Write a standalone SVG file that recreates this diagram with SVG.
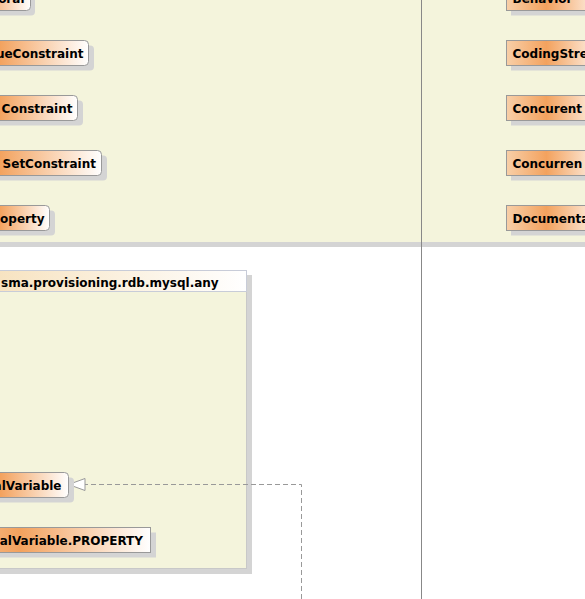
<svg xmlns="http://www.w3.org/2000/svg" width="585" height="599" viewBox="0 0 585 599">
<style>
.pkg{fill:#f4f4dc;stroke:#c8c8c8;stroke-width:1}
.shadow{fill:#d4d4d4}
.nodeL{fill:url(#gL);stroke:#999;stroke-width:1}
.nodeR{fill:url(#gR);stroke:#999;stroke-width:1}
.lbl{font-family:"DejaVu Sans",sans-serif;font-weight:bold;font-size:12px;fill:#000}
.conn{fill:none;stroke:#999;stroke-width:1}
</style>
<defs>
<linearGradient id="gL" x1="0" y1="0" x2="1" y2="0">
<stop offset="0" stop-color="#f8cfa8"/>
<stop offset="0.4" stop-color="#f3a25e"/>
<stop offset="1" stop-color="#ffffff"/>
</linearGradient>
<linearGradient id="gR" x1="0" y1="0" x2="1" y2="0">
<stop offset="0" stop-color="#f8cfa8"/>
<stop offset="0.4" stop-color="#f3a25e"/>
<stop offset="1" stop-color="#ffffff"/>
</linearGradient>
<linearGradient id="gH" x1="0" y1="0" x2="1" y2="0">
<stop offset="0" stop-color="#f4d8a8"/>
<stop offset="1" stop-color="#ffffff"/>
</linearGradient>
</defs>

<g id="pkg-top">
<rect class="shadow" x="-10" y="242" width="600" height="5"/>
<rect x="-10" y="-10" width="600" height="252" fill="#f4f4dc"/>
</g>

<g id="pkg-mysql">
<rect class="shadow" x="-95" y="275" width="347" height="299"/>
<rect class="pkg" x="-100.5" y="270.5" width="347" height="298"/>
<rect x="-100.5" y="270.5" width="347" height="21" fill="url(#gH)" stroke="#c8ccd8"/>
<text class="lbl" x="1" y="286.5">sma.provisioning.rdb.mysql.any</text>
</g>

<g id="connectors">
<line x1="421.5" y1="0" x2="421.5" y2="599" stroke="#888" stroke-width="1"/>
<path class="conn" d="M301.5,599 V484.5 H85" stroke-dasharray="5,3"/>
<polygon points="68.5,484.5 85,478.5 85,490.5" fill="#fff" stroke="#999"/>
</g>

<g id="node-l1">
<rect class="shadow" x="-45" y="-9.5" width="80" height="25" rx="4"/>
<rect class="nodeL" x="-49.5" y="-14.5" width="80" height="25" rx="4"/>
<text class="lbl" x="24.5" y="2.5" text-anchor="end">oral</text>
</g>
<g id="node-l2">
<rect class="shadow" x="-54" y="45.5" width="148" height="25" rx="4"/>
<rect class="nodeL" x="-59.5" y="40.5" width="148" height="25" rx="4"/>
<text class="lbl" x="83.5" y="57.5" text-anchor="end">ueConstraint</text>
</g>
<g id="node-l3">
<rect class="shadow" x="-47" y="100.5" width="130" height="25" rx="4"/>
<rect class="nodeL" x="-52.5" y="95.5" width="130" height="25" rx="4"/>
<text class="lbl" x="72.5" y="112.5" text-anchor="end">Constraint</text>
</g>
<g id="node-l4">
<rect class="shadow" x="-63" y="155.5" width="170" height="25" rx="4"/>
<rect class="nodeL" x="-68.5" y="150.5" width="170" height="25" rx="4"/>
<text class="lbl" x="96" y="167.5" text-anchor="end">SetConstraint</text>
</g>
<g id="node-l5">
<rect class="shadow" x="-28" y="210.5" width="83" height="25" rx="4"/>
<rect class="nodeL" x="-33.5" y="205.5" width="83" height="25" rx="4"/>
<text class="lbl" x="44.5" y="222.5" text-anchor="end">operty</text>
</g>

<g id="node-r1">
<rect class="shadow" x="511" y="-9.5" width="100" height="25"/>
<rect class="nodeR" x="506.5" y="-14.5" width="100" height="25"/>
<text class="lbl" x="512.5" y="2.5">Behavior</text>
</g>
<g id="node-r2">
<rect class="shadow" x="511" y="45.5" width="100" height="25"/>
<rect class="nodeR" x="506.5" y="40.5" width="100" height="25"/>
<text class="lbl" x="512.5" y="57.5">CodingStre</text>
</g>
<g id="node-r3">
<rect class="shadow" x="511" y="100.5" width="100" height="25"/>
<rect class="nodeR" x="506.5" y="95.5" width="100" height="25"/>
<text class="lbl" x="512.5" y="112.5">Concurent</text>
</g>
<g id="node-r4">
<rect class="shadow" x="511" y="155.5" width="100" height="25"/>
<rect class="nodeR" x="506.5" y="150.5" width="100" height="25"/>
<text class="lbl" x="512.5" y="167.5">Concurren</text>
</g>
<g id="node-r5">
<rect class="shadow" x="511" y="210.5" width="100" height="25"/>
<rect class="nodeR" x="506.5" y="205.5" width="100" height="25"/>
<text class="lbl" x="512.5" y="222.5">Documenta</text>
</g>

<g id="node-var">
<rect class="shadow" x="-39" y="477.5" width="113" height="25" rx="4"/>
<rect class="nodeL" x="-44.5" y="472.5" width="113" height="25" rx="4"/>
<text class="lbl" x="61.5" y="489.5" text-anchor="end">alVariable</text>
</g>
<g id="node-var-prop">
<rect class="shadow" x="-61" y="532.5" width="217" height="25"/>
<rect class="nodeL" x="-66.5" y="527.5" width="217" height="25"/>
<text class="lbl" x="143" y="544.5" text-anchor="end">alVariable.PROPERTY</text>
</g>
</svg>
